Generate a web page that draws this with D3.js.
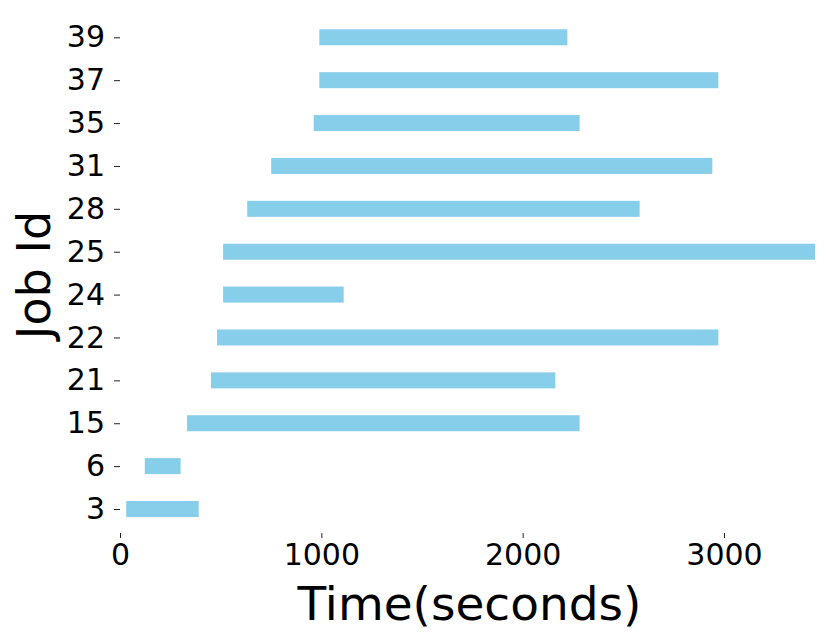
<!DOCTYPE html>
<html>
<head>
<meta charset="utf-8">
<script src="https://cdn.jsdelivr.net/npm/d3@7"></script>
<style>
  body { margin: 0; background: #fff; }
  svg { display: block; }
  text { font-family: "DejaVu Sans", sans-serif; fill: #000; }
</style>
</head>
<body>
<svg id="chart" width="831" height="644"></svg>
<script>
const jobIds = ["3", "6", "15", "21", "22", "24", "25", "28", "31", "35", "37", "39"];
const startTimes = [31, 123, 333, 452, 482, 512, 512, 632, 751, 962, 990, 990];
const endTimes = [391, 301, 2283, 2162, 2972, 1111, 3452, 2581, 2942, 2283, 2972, 2222];
const xTicks = [0, 1000, 2000, 3000];
const xLabel = "Time(seconds)";
const yLabel = "Job Id";

const svg = d3.select("#chart");
const left = 120, right = 815;
const x = d3.scaleLinear().domain([0, 3452]).range([left, right]);
const y = d3.scalePoint().domain(jobIds).range([509, 37.3]);
const barH = y.step() * 0.373;

const data = jobIds.map((id, i) => ({ id, s: startTimes[i], e: endTimes[i] }));

svg.append("g").selectAll("rect").data(data).join("rect")
  .attr("x", d => x(d.s))
  .attr("width", d => x(d.e) - x(d.s))
  .attr("y", d => y(d.id) - barH / 2)
  .attr("height", barH)
  .attr("fill", "#87ceeb");

// x axis (no spine)
const xAxis = svg.append("g").attr("transform", "translate(0,533)")
  .call(d3.axisBottom(x).tickValues(xTicks).tickFormat(d3.format("d")).tickSize(5).tickPadding(6));
xAxis.select(".domain").remove();
xAxis.selectAll("line").attr("stroke", "#222").attr("stroke-width", 1);
xAxis.selectAll("text").style("font-size", "30px").attr("dy", "0.71em");

// y axis (no spine)
const yAxis = svg.append("g").attr("transform", `translate(${left},0)`)
  .call(d3.axisLeft(y).tickSize(6).tickPadding(9));
yAxis.select(".domain").remove();
yAxis.selectAll("line").attr("stroke", "#222").attr("stroke-width", 1);
yAxis.selectAll("text").style("font-size", "30px");

svg.append("text")
  .attr("x", (left + right) / 2 + 2)
  .attr("y", 620)
  .attr("text-anchor", "middle")
  .style("font-size", "47px")
  .text(xLabel);

svg.append("text")
  .attr("transform", "translate(50,275) rotate(-90)")
  .attr("text-anchor", "middle")
  .style("font-size", "46px")
  .text(yLabel);
</script>
</body>
</html>
